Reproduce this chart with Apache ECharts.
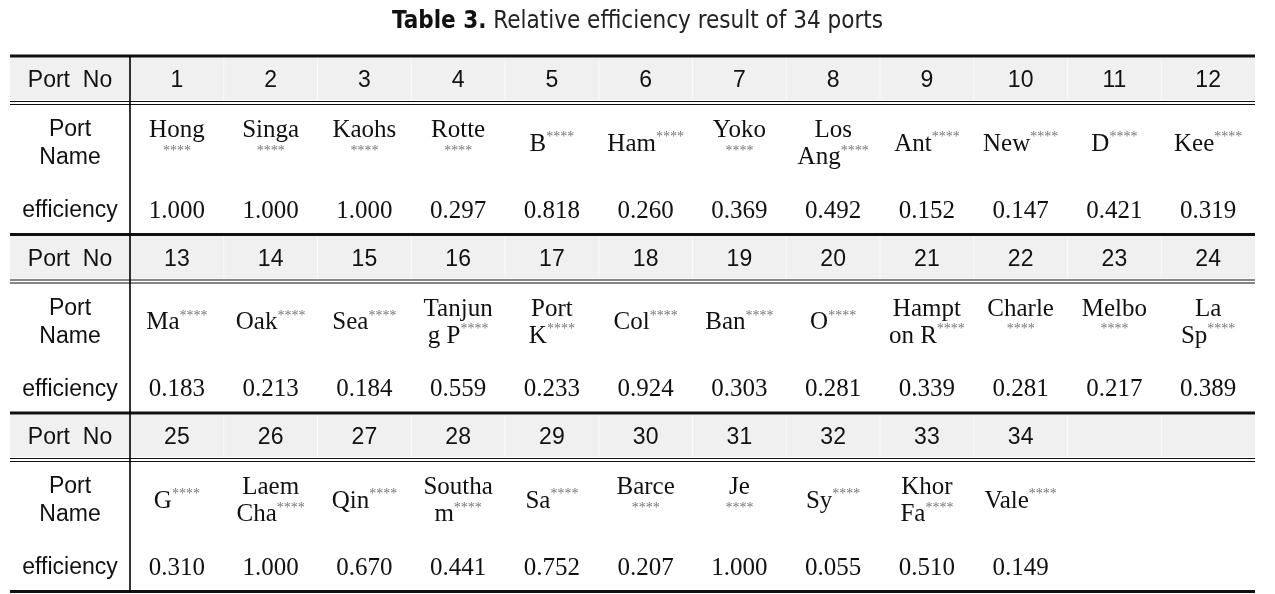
<!DOCTYPE html>
<html><head><meta charset="utf-8">
<script src="https://cdn.jsdelivr.net/npm/echarts@6/dist/echarts.min.js"></script>
<style>html,body{margin:0;padding:0;background:#fff}#c{width:1275px;height:594px}</style>
</head><body><div id="c"></div>
<script>
// ---------------- data ----------------
const titleBold = 'Table 3.';
const titleRest = 'Relative efficiency result of 34 ports';
const rowLabels = ['Port  No', 'Port\nName', 'efficiency'];
const portNos = ['1','2','3','4','5','6','7','8','9','10','11','12',
                 '13','14','15','16','17','18','19','20','21','22','23','24',
                 '25','26','27','28','29','30','31','32','33','34'];
const portNames = [
  'Hong\n****','Singa\n****','Kaohs\n****','Rotte\n****','B****','Ham****',
  'Yoko\n****','Los\nAng****','Ant****','New****','D****','Kee****',
  'Ma****','Oak****','Sea****','Tanjun\ng P****','Port\nK****','Col****',
  'Ban****','O****','Hampt\non R****','Charle\n****','Melbo\n****','La\nSp****',
  'G****','Laem\nCha****','Qin****','Southa\nm****','Sa****','Barce\n****',
  'Je\n****','Sy****','Khor\nFa****','Vale****'
];
const efficiency = [
  1.000, 1.000, 1.000, 0.297, 0.818, 0.260, 0.369, 0.492, 0.152, 0.147, 0.421, 0.319,
  0.183, 0.213, 0.184, 0.559, 0.233, 0.924, 0.303, 0.281, 0.339, 0.281, 0.217, 0.389,
  0.310, 1.000, 0.670, 0.441, 0.752, 0.207, 1.000, 0.055, 0.510, 0.149
];

// ---------------- layout ----------------
const COLS = 12;              // data columns per block
const LABEL_W = 1.28;         // label column width, in data-column units
const BLOCK_H = 178.5;        // block height in y-axis units (px)
const NBLOCK = 3;
const OFF = {bandTop: 1.5, bandBot: 44, dbl1: 45.5, dbl2: 48.5, head: 25, name: 88, eff: 155};
const SANS = "'Liberation Sans', Arial, sans-serif";
const SERIF = "'Liberation Serif', 'Times New Roman', serif";
const NARROW = "'Liberation Sans Narrow', 'DejaVu Sans Condensed', sans-serif";
const INK = '#111';

// shapes (bands, rules)
const shapes = [];
for (let b = 0; b < NBLOCK; b++) {
  const y0 = b * BLOCK_H;
  shapes.push({t: 'rect', x1: -LABEL_W, y1: y0 + OFF.bandTop, x2: COLS, y2: y0 + OFF.bandBot, fill: '#f0f0f0'});
}
for (let b = 0; b < NBLOCK; b++) {
  const y0 = b * BLOCK_H;
  for (let c = 1; c < COLS; c++)
    shapes.push({t: 'line', x1: c, y1: y0 + OFF.bandTop, x2: c, y2: y0 + OFF.bandBot, stroke: '#fafafa', w: 1});
  shapes.push({t: 'line', x1: -LABEL_W, y1: y0, x2: COLS, y2: y0, stroke: INK, w: 3});
  shapes.push({t: 'line', x1: -LABEL_W, y1: y0 + OFF.dbl1, x2: COLS, y2: y0 + OFF.dbl1, stroke: INK, w: 1.2});
  shapes.push({t: 'line', x1: -LABEL_W, y1: y0 + OFF.dbl2, x2: COLS, y2: y0 + OFF.dbl2, stroke: INK, w: 1.2});
}
shapes.push({t: 'line', x1: -LABEL_W, y1: NBLOCK * BLOCK_H, x2: COLS, y2: NBLOCK * BLOCK_H, stroke: INK, w: 3});
shapes.push({t: 'line', x1: 0, y1: 0, x2: 0, y2: NBLOCK * BLOCK_H, stroke: '#000', w: 1.6});

// text cells
function nameRich(s) {
  return s.split('\n').map(line => {
    if (/^\*+$/.test(line)) return '{n|\u200b}{p|' + line + '}';
    const m = line.match(/^(.*?)(\*+)$/);
    if (m) return '{n|' + m[1] + '}{p|' + m[2] + '}';
    return '{n|' + line + '}';
  }).join('\n');
}
const cells = [];
for (let b = 0; b < NBLOCK; b++) {
  const y0 = b * BLOCK_H, xl = -LABEL_W / 2;
  cells.push({x: xl, y: y0 + OFF.head, kind: 'label', text: rowLabels[0]});
  cells.push({x: xl, y: y0 + OFF.name, kind: 'label2', text: rowLabels[1]});
  cells.push({x: xl, y: y0 + OFF.eff, kind: 'label', text: rowLabels[2]});
}
for (let k = 0; k < portNos.length; k++) {
  const b = Math.floor(k / COLS), c = k % COLS, y0 = b * BLOCK_H, x = c + 0.5;
  cells.push({x, y: y0 + OFF.head, kind: 'head', text: portNos[k]});
  cells.push({x, y: y0 + OFF.name, kind: 'name', text: nameRich(portNames[k])});
  cells.push({x, y: y0 + OFF.eff, kind: 'eff', text: efficiency[k].toFixed(3)});
}

const styleOf = {
  label:  {fontFamily: SANS, fontSize: 23},
  label2: {fontFamily: SANS, fontSize: 23, lineHeight: 28},
  head:   {fontFamily: SANS, fontSize: 23},
  eff:    {fontFamily: SERIF, fontSize: 25},
  name:   {fontFamily: SERIF, fontSize: 25}
};
const nameRichStyles = {
  n: {fontFamily: SERIF, fontSize: 25, lineHeight: 27, fill: INK},
  p: {fontFamily: SERIF, fontSize: 14, lineHeight: 14, verticalAlign: 'top', fill: '#777'}
};

const chart = echarts.init(document.getElementById('c'), null, {renderer: 'canvas'});
chart.setOption({
  animation: false,
  backgroundColor: '#fff',
  title: {
    text: '{b|' + titleBold + '} {r|' + titleRest + '}',
    left: 'center', top: 5,
    textStyle: {
      fontFamily: NARROW, fontSize: 24, color: INK, fontWeight: 'normal',
      rich: {
        b: {fontFamily: NARROW, fontSize: 24, fontWeight: 'bold', color: INK},
        r: {fontFamily: NARROW, fontSize: 24, fontWeight: 'normal', color: '#222'}
      }
    }
  },
  grid: {left: 10, right: 20, top: 56, bottom: 2.5},
  xAxis: {type: 'value', min: -LABEL_W, max: COLS, show: false},
  yAxis: {type: 'value', min: 0, max: NBLOCK * BLOCK_H, inverse: true, show: false},
  series: [
    {
      type: 'custom', coordinateSystem: 'cartesian2d', clip: false, silent: true,
      data: shapes.map(s => [s.x1, s.y1]),
      renderItem: function (params, api) {
        const s = shapes[params.dataIndex];
        const p1 = api.coord([s.x1, s.y1]), p2 = api.coord([s.x2, s.y2]);
        if (s.t === 'rect') {
          return {type: 'rect', shape: {x: p1[0], y: p1[1], width: p2[0] - p1[0], height: p2[1] - p1[1]}, style: {fill: s.fill}};
        }
        return {type: 'line', shape: {x1: p1[0], y1: p1[1], x2: p2[0], y2: p2[1]}, style: {stroke: s.stroke, lineWidth: s.w}};
      }
    },
    {
      type: 'custom', coordinateSystem: 'cartesian2d', clip: false, silent: true,
      data: cells.map(c => [c.x, c.y]),
      renderItem: function (params, api) {
        const c = cells[params.dataIndex];
        const p = api.coord([c.x, c.y]);
        const st = Object.assign({
          text: c.text, fill: INK,
          align: 'center', verticalAlign: 'middle',
          textAlign: 'center', textVerticalAlign: 'middle'
        }, styleOf[c.kind]);
        if (c.kind === 'name') st.rich = nameRichStyles;
        return {type: 'text', x: p[0], y: p[1], style: st};
      }
    }
  ]
});
</script>
</body></html>
